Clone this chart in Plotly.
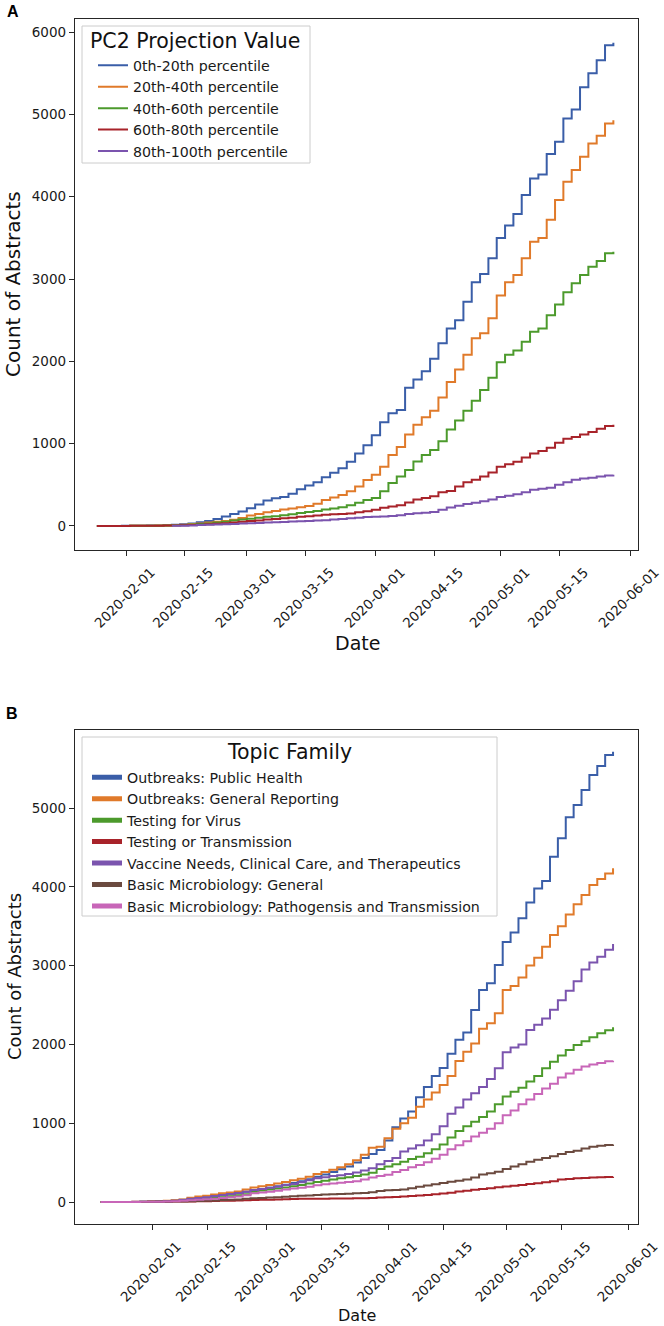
import plotly.graph_objects as go
import pandas as pd

W, H = 664, 1326

# ---------------- data (2-day sampling of the cumulative step curves) ----------------
dates_b = list(pd.date_range("2020-01-19", "2020-05-28", freq="2D").strftime("%Y-%m-%d"))
dates_a = dates_b[3:]

a_names = ["0th-20th percentile", "20th-40th percentile", "40th-60th percentile",
           "60th-80th percentile", "80th-100th percentile"]
a_p0_20 = [0, 0, 0, 1, 2, 3, 4, 6, 9, 13,
           20, 30, 45, 60, 85, 115, 145, 175, 215, 260,
           310, 335, 352, 390, 446, 490, 530, 590, 645, 700,
           780, 880, 980, 1100, 1260, 1370, 1409, 1680, 1780, 1880,
           2030, 2219, 2400, 2500, 2724, 2960, 3060, 3252, 3500, 3650,
           3790, 4020, 4223, 4270, 4520, 4668, 4950, 5060, 5330, 5500,
           5660, 5842, 5870]
a_p20_40 = [0, 0, 0, 0, 1, 2, 3, 4, 6, 10,
            15, 22, 30, 40, 50, 60, 75, 95, 125, 145,
            165, 180, 198, 210, 228, 243, 270, 315, 345, 375,
            420, 480, 559, 620, 720, 860, 960, 1110, 1230, 1320,
            1400, 1560, 1750, 1900, 2080, 2279, 2340, 2522, 2800, 2960,
            3049, 3252, 3453, 3500, 3720, 3960, 4182, 4324, 4486, 4648,
            4740, 4891, 4930]
a_p40_60 = [0, 0, 0, 0, 1, 1, 2, 3, 5, 8,
            12, 16, 22, 30, 40, 50, 65, 78, 88, 98,
            110, 118, 128, 142, 158, 170, 182, 198, 212, 228,
            250, 280, 316, 340, 420, 520, 600, 680, 781, 860,
            923, 1030, 1170, 1280, 1400, 1520, 1652, 1800, 1990, 2080,
            2130, 2239, 2360, 2400, 2560, 2690, 2840, 2948, 3050, 3150,
            3220, 3312, 3332]
a_p60_80 = [0, 0, 0, 0, 1, 1, 2, 3, 4, 5,
            7, 10, 15, 20, 26, 32, 40, 50, 58, 66,
            78, 85, 93, 100, 110, 118, 126, 135, 140, 145,
            152, 165, 178, 195, 220, 235, 250, 285, 320, 340,
            360, 410, 425, 480, 530, 560, 600, 650, 720, 750,
            780, 830, 880, 910, 950, 1010, 1060, 1080, 1110, 1140,
            1180, 1215, 1230]
a_p80_100 = [None, None, None, None, None, None, None, None, None, 1,
             3, 6, 10, 13, 17, 20, 24, 28, 32, 36,
             40, 44, 48, 52, 55, 60, 65, 70, 78, 85,
             92, 100, 108, 112, 115, 120, 130, 145, 154, 160,
             170, 195, 225, 245, 265, 280, 300, 320, 350, 365,
             385, 410, 440, 450, 465, 500, 530, 560, 575, 585,
             600, 612, 620]
a_series = [a_p0_20, a_p20_40, a_p40_60, a_p60_80, a_p80_100]

b_names = ["Outbreaks: Public Health", "Outbreaks: General Reporting", "Testing for Virus",
           "Testing or Transmission", "Vaccine Needs, Clinical Care, and Therapeutics",
           "Basic Microbiology: General", "Basic Microbiology: Pathogensis and Transmission"]
b_public_health = [0, 0, 0, 1, 1, 2, 4, 6, 10, 18,
                   30, 40, 50, 57, 65, 85, 98, 110, 130, 150,
                   165, 180, 200, 220, 240, 265, 290, 320, 350, 380,
                   415, 450, 500, 560, 610, 660, 780, 950, 1060, 1150,
                   1330, 1460, 1600, 1700, 1880, 2060, 2150, 2437, 2690, 2775,
                   3008, 3300, 3420, 3600, 3800, 3980, 4075, 4382, 4615, 4882,
                   5038, 5228, 5419, 5533, 5673, 5714]
b_general_reporting = [0, 0, 0, 1, 2, 4, 6, 10, 16, 22,
                       32, 55, 70, 80, 95, 110, 122, 135, 160, 185,
                       200, 215, 235, 255, 275, 295, 320, 355, 380, 410,
                       440, 480, 530, 600, 690, 700, 810, 930, 999, 1070,
                       1209, 1300, 1390, 1485, 1600, 1790, 1908, 2013, 2200, 2268,
                       2395, 2690, 2740, 2850, 3000, 3100, 3240, 3390, 3500, 3650,
                       3780, 3896, 4023, 4100, 4170, 4235]
b_testing_virus = [0, 0, 0, 1, 1, 2, 3, 5, 8, 12,
                   18, 28, 35, 42, 50, 60, 72, 85, 100, 131,
                   145, 160, 172, 185, 200, 215, 235, 255, 270, 285,
                   300, 315, 330, 350, 370, 420, 450, 480, 512, 545,
                   575, 620, 670, 730, 820, 900, 960, 1020, 1080, 1150,
                   1240, 1340, 1400, 1450, 1530, 1600, 1697, 1781, 1860, 1930,
                   1992, 2040, 2090, 2141, 2180, 2217]
b_testing_transmission = [0, 0, 0, 0, 0, 1, 2, 3, 4, 5,
                          6, 8, 9, 11, 13, 15, 17, 19, 22, 25,
                          28, 30, 33, 36, 38, 40, 41, 42, 43, 44,
                          45, 46, 47, 48, 52, 57, 62, 65, 70, 76,
                          82, 90, 100, 108, 118, 135, 144, 155, 165, 175,
                          188, 198, 205, 215, 228, 238, 250, 265, 285, 292,
                          300, 305, 310, 315, 319, 321]
b_vaccine = [0, 0, 0, 1, 2, 3, 4, 6, 10, 15,
             25, 40, 50, 60, 75, 90, 102, 115, 130, 152,
             165, 180, 195, 215, 230, 250, 275, 300, 315, 330,
             340, 355, 375, 400, 430, 480, 520, 560, 640, 680,
             720, 780, 860, 960, 1120, 1200, 1300, 1380, 1460, 1560,
             1697, 1900, 1960, 2000, 2183, 2250, 2330, 2440, 2560, 2680,
             2800, 2950, 3040, 3113, 3200, 3274]
b_micro_general = [0, 0, 0, 0, 1, 1, 2, 3, 4, 6,
                   8, 10, 13, 16, 19, 24, 28, 33, 40, 47,
                   52, 56, 62, 68, 72, 78, 84, 89, 94, 98,
                   101, 105, 110, 115, 125, 140, 150, 152, 160, 175,
                   195, 210, 225, 240, 258, 270, 285, 310, 350, 365,
                   385, 420, 450, 480, 510, 535, 560, 580, 610, 635,
                   650, 680, 700, 715, 725, 730]
b_micro_pathogen = [0, 0, 0, 1, 1, 2, 3, 4, 6, 10,
                    15, 22, 28, 34, 42, 52, 60, 70, 85, 110,
                    120, 130, 142, 160, 170, 182, 195, 212, 225, 235,
                    245, 255, 265, 285, 310, 330, 345, 380, 406, 440,
                    470, 505, 550, 600, 670, 720, 770, 830, 880, 930,
                    1000, 1100, 1160, 1240, 1300, 1370, 1440, 1500, 1580, 1630,
                    1680, 1720, 1745, 1765, 1785, 1793]
b_series = [b_public_health, b_general_reporting, b_testing_virus, b_testing_transmission,
            b_vaccine, b_micro_general, b_micro_pathogen]

for s in a_series:
    assert len(s) == len(dates_a), (len(s), len(dates_a))
for s in b_series:
    assert len(s) == len(dates_b), (len(s), len(dates_b))

tick_dates = ["2020-02-01", "2020-02-15", "2020-03-01", "2020-03-15", "2020-04-01",
              "2020-04-15", "2020-05-01", "2020-05-15", "2020-06-01"]

# ---------------- style ----------------
a_colors = ["#3a5ea8", "#e07a2a", "#4c9a2c", "#a8232a", "#7b54ae"]
b_colors = ["#3a5ea8", "#e07a2a", "#4c9a2c", "#a8232a", "#7b54ae", "#6b4a3f", "#c866b8"]
FONT = "DejaVu Sans"
LEG_FONT = 14.2

fig = go.Figure()
for name, vals, col in zip(a_names, a_series, a_colors):
    fig.add_trace(go.Scatter(x=dates_a, y=vals, name=name, mode="lines",
                             line=dict(color=col, width=2, shape="hv"),
                             xaxis="x", yaxis="y", legend="legend"))
for name, vals, col in zip(b_names, b_series, b_colors):
    fig.add_trace(go.Scatter(x=dates_b, y=vals, name=name, mode="lines",
                             line=dict(color=col, width=2, shape="hv"),
                             xaxis="x2", yaxis="y2", showlegend=False))
for name, col in zip(b_names, b_colors):
    fig.add_trace(go.Scatter(x=[None], y=[None], name=name, mode="lines",
                             line=dict(color=col, width=5),
                             xaxis="x2", yaxis="y2", legend="legend2"))

def px_x(p):
    return p / W

def px_y(p):
    return 1 - p / H

def axis_style(size):
    return dict(showgrid=False, zeroline=False, showline=True, mirror=True,
                linecolor="#262626", linewidth=1.3, ticks="outside", ticklen=5,
                tickwidth=1.2, tickcolor="#262626",
                tickfont=dict(family=FONT, size=size, color="#1a1a1a"), automargin=False)

xdate = dict(type="date", tickvals=tick_dates, tickformat="%Y-%m-%d", tickangle=-45,
             ticklabelshift=25, ticklabelstandoff=3)

leg_common = dict(xanchor="left", yanchor="top", bgcolor="rgba(0,0,0,0)", borderwidth=0,
                  font=dict(family=FONT, size=LEG_FONT, color="#1a1a1a"),
                  itemwidth=30, tracegroupgap=0)

fig.update_layout(
    width=W, height=H, margin=dict(l=0, r=0, t=0, b=0),
    plot_bgcolor="white", paper_bgcolor="white",
    font=dict(family=FONT, color="#262626"),
    xaxis=dict(domain=[px_x(75), px_x(638)], anchor="y",
               range=["2020-01-19 18:00", "2020-06-02 22:00"], **xdate, **axis_style(13.5)),
    yaxis=dict(domain=[px_y(550), px_y(19)], anchor="x", range=[-293, 6160],
               tickvals=[0, 1000, 2000, 3000, 4000, 5000, 6000], **axis_style(13.5)),
    xaxis2=dict(domain=[px_x(75), px_x(638)], anchor="y2",
                range=["2020-01-12 11:00", "2020-06-03 08:00"], **xdate, **axis_style(13.5)),
    yaxis2=dict(domain=[px_y(1224), px_y(730)], anchor="x2", range=[-279, 5990],
                tickvals=[0, 1000, 2000, 3000, 4000, 5000], **axis_style(13.5)),
    legend=dict(x=px_x(93), y=px_y(49.5), **leg_common),
    legend2=dict(x=px_x(87), y=px_y(761.5), **leg_common),
)

# legend frames (drawn below the legend entries)
for (x0, y0, x1, y1) in [(82, 26, 310, 163), (82, 737, 497, 916)]:
    fig.add_shape(type="rect", xref="paper", yref="paper",
                  x0=px_x(x0), x1=px_x(x1), y0=px_y(y1), y1=px_y(y0),
                  fillcolor="white", line=dict(color="#cccccc", width=1), layer="above")

annots = [
    dict(text="PC2 Projection Value", x=px_x(195), y=px_y(40.7), xanchor="center",
         yanchor="middle", font=dict(family=FONT, size=20.5, color="#111111")),
    dict(text="Topic Family", x=px_x(289), y=px_y(751.7), xanchor="center",
         yanchor="middle", font=dict(family=FONT, size=20.5, color="#111111")),
    dict(text="<b>A</b>", x=px_x(5), y=px_y(12), xanchor="left", yanchor="middle",
         font=dict(family="Liberation Sans", size=16, color="black")),
    dict(text="<b>B</b>", x=px_x(4), y=px_y(713.5), xanchor="left", yanchor="middle",
         font=dict(family="Liberation Sans", size=16, color="black")),
    dict(text="Count of Abstracts", x=px_x(13), y=px_y(284), textangle=-90,
         xanchor="center", yanchor="middle", font=dict(family=FONT, size=20, color="#111111")),
    dict(text="Date", x=px_x(357), y=px_y(643), xanchor="center", yanchor="middle",
         font=dict(family=FONT, size=19, color="#111111")),
    dict(text="Count of Abstracts", x=px_x(14), y=px_y(977), textangle=-90,
         xanchor="center", yanchor="middle", font=dict(family=FONT, size=18, color="#111111")),
    dict(text="Date", x=px_x(357), y=px_y(1315), xanchor="center", yanchor="middle",
         font=dict(family=FONT, size=16, color="#111111")),
]
for a in annots:
    fig.add_annotation(xref="paper", yref="paper", showarrow=False, **a)

fig.write_html("out.html", config={"displayModeBar": False},
               post_script="document.body.style.margin='0';document.body.style.overflow='hidden';")
